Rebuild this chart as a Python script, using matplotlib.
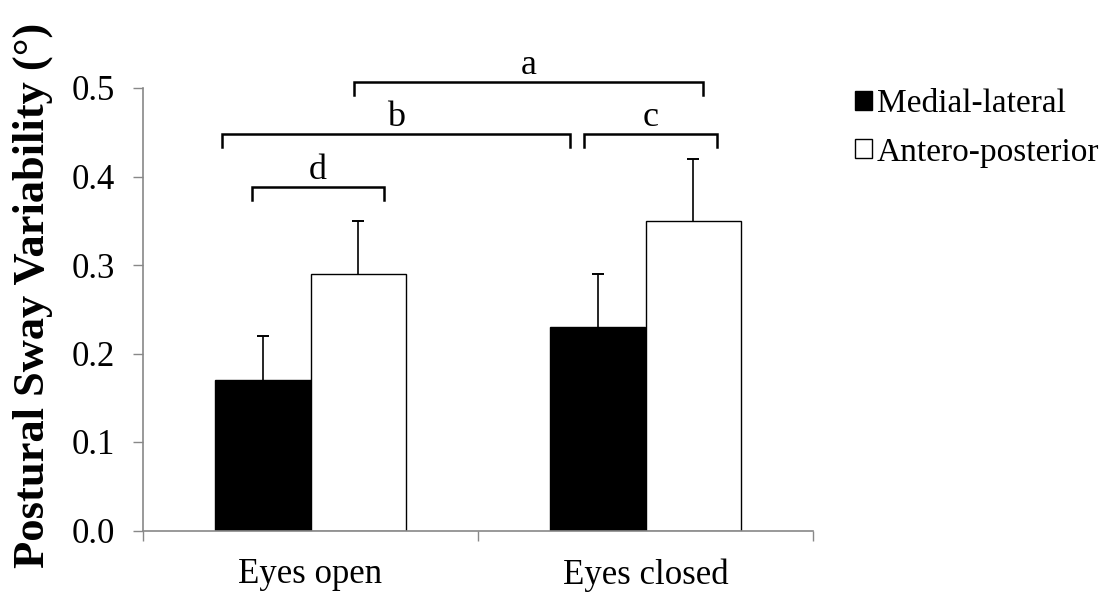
import matplotlib
matplotlib.use("Agg")
import matplotlib.pyplot as plt
from matplotlib.patches import Patch
import numpy as np

plt.rcParams['font.family'] = ['Liberation Serif', 'DejaVu Serif']

categories = ["Eyes open", "Eyes closed"]
series_names = ["Medial-lateral", "Antero-posterior"]
ml_means = [0.17, 0.23]
ml_err = [0.05, 0.06]
ap_means = [0.29, 0.35]
ap_err = [0.06, 0.07]
yticks = [0.0, 0.1, 0.2, 0.3, 0.4, 0.5]
# significance brackets: (x_left, x_right, y_top, label)
brackets = [
    (0.131, 1.173, 0.507, "a"),
    (-0.264, 0.774, 0.448, "b"),
    (0.816, 1.214, 0.448, "c"),
    (-0.175, 0.220, 0.388, "d"),
]

W, H = 1116, 592
fig = plt.figure(figsize=(W / 100, H / 100), dpi=100)
ax = fig.add_axes([143 / W, 1 - 530.5 / H, 670 / W, (530.5 - 88) / H])

x = np.arange(len(categories))
bw = 0.285
ml_x = x - bw / 2
ap_x = x + bw / 2
ax.bar(ml_x, ml_means, bw, color="black", edgecolor="black", linewidth=1.0, zorder=2)
ax.bar(ap_x, ap_means, bw, color="white", edgecolor="black", linewidth=1.0, zorder=2)
for xs, m, e in [(ml_x, ml_means, ml_err), (ap_x, ap_means, ap_err)]:
    m = np.asarray(m)
    e = np.asarray(e)
    ax.vlines(xs, m, m + e, color="black", lw=1.2, zorder=3)
    ax.plot(xs, m + e, ls="none", marker="_", markersize=8, markeredgewidth=1.4,
            color="black", zorder=3)

ax.set_xlim(-0.5, 1.5)
ax.set_ylim(0, 0.5)
ax.set_yticks(yticks)
ax.set_yticklabels([f"{v:.1f}" for v in yticks], fontsize=25)
ax.set_xticks([-0.5, 0.5, 1.5])
ax.set_xticklabels([])
ax.set_xticks(x, minor=True)
ax.set_xticklabels(categories, minor=True, fontsize=25)
ax.tick_params(axis="x", which="minor", length=0, pad=20)
ax.tick_params(axis="x", which="major", length=7, width=1.0, color="#888888", direction="out")
ax.tick_params(axis="y", length=7, width=1.0, color="#888888", direction="out", pad=13)
for s in ["top", "right"]:
    ax.spines[s].set_visible(False)
for s in ["left", "bottom"]:
    ax.spines[s].set_color("#888888")
    ax.spines[s].set_linewidth(1.2)

ax.set_ylabel("Postural Sway Variability (°)", fontsize=32, fontweight="bold")
ax.yaxis.set_label_coords(-0.135, 0.532)

tick_h = 0.0145
for x0, x1, yt, lab in brackets:
    ax.plot([x0, x0, x1, x1], [yt - tick_h, yt, yt, yt - tick_h], color="black",
            lw=1.8, clip_on=False, solid_joinstyle="miter", zorder=4)
    ax.text((x0 + x1) / 2, yt + 0.0, lab, ha="center", va="bottom", fontsize=26)

handles = [Patch(facecolor="black", edgecolor="black"),
           Patch(facecolor="white", edgecolor="black")]
fig.legend(handles, series_names, loc="upper left", bbox_to_anchor=(842 / W, 1 - 75 / H),
           frameon=False, fontsize=24, handlelength=0.5, handleheight=0.5,
           handletextpad=0.15, labelspacing=0.55, borderaxespad=0)

fig.savefig("out.png", dpi=100)
